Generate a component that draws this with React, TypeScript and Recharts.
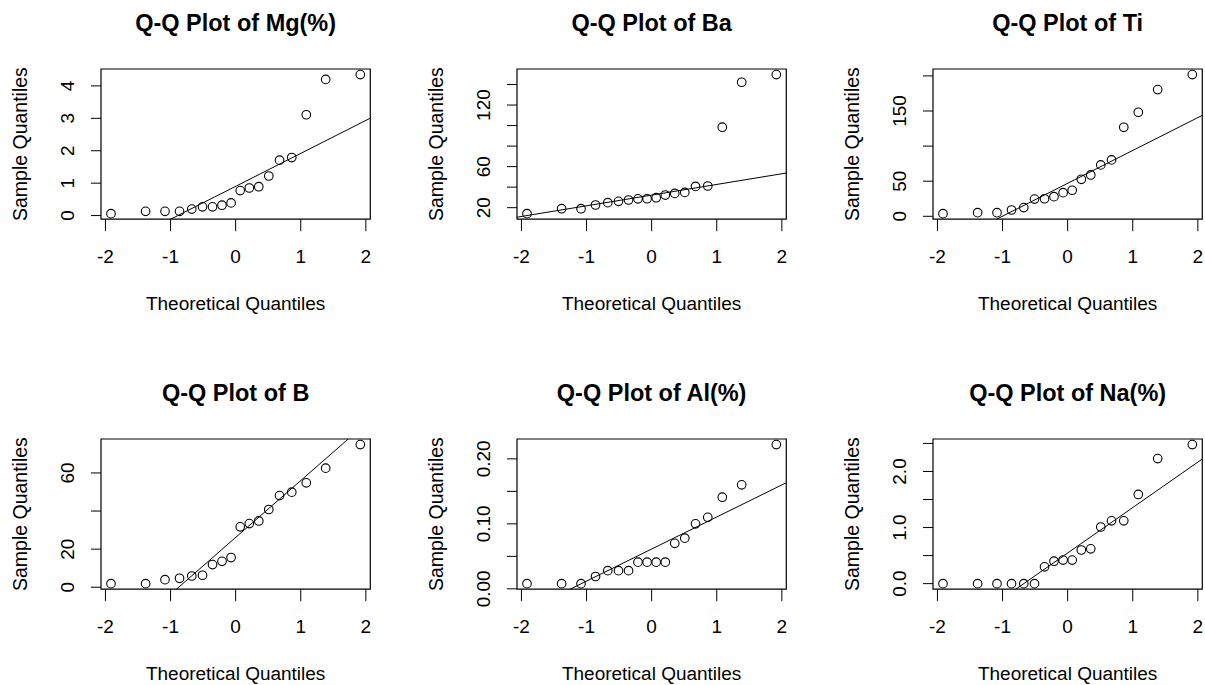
import React from "react";
import {
  ScatterChart,
  Scatter,
  XAxis,
  YAxis,
  ReferenceArea,
  ReferenceLine,
} from "recharts";

// theoretical normal quantiles for the 18 samples
const theoretical = [
  -1.915, -1.383, -1.085, -0.862, -0.674, -0.509, -0.355, -0.21, -0.07, 0.07,
  0.21, 0.355, 0.509, 0.674, 0.862, 1.085, 1.383, 1.915,
];

const mgValues = [
  0.06, 0.13, 0.13, 0.13, 0.2, 0.27, 0.27, 0.32, 0.39, 0.77, 0.85, 0.89, 1.22,
  1.71, 1.79, 3.11, 4.2, 4.35,
];
const baValues = [
  14.2, 19.0, 19.0, 22.6, 24.9, 26.2, 27.5, 28.6, 28.7, 29.7, 32.3, 33.9, 34.9,
  40.7, 41.1, 98.4, 142.2, 149.7,
];
const tiValues = [
  3.8, 5.2, 5.2, 9.0, 12.4, 24.5, 25.0, 28.0, 33.7, 37.1, 52.7, 58.9, 73.2,
  80.3, 126.8, 148.2, 180.5, 201.9,
];
const bValues = [
  1.9, 1.9, 4.0, 4.7, 5.9, 6.3, 11.9, 13.6, 15.6, 31.7, 33.4, 34.8, 40.8, 48.1,
  49.9, 54.8, 62.5, 74.9,
];
const alValues = [
  0.008, 0.008, 0.008, 0.019, 0.028, 0.028, 0.028, 0.041, 0.041, 0.041, 0.041,
  0.07, 0.078, 0.1, 0.11, 0.141, 0.16, 0.222,
];
const naValues = [
  0, 0, 0, 0, 0, 0, 0.3, 0.4, 0.42, 0.42, 0.6, 0.62, 1.01, 1.12, 1.12, 1.59,
  2.23, 2.48,
];

const titles = [
  "Q-Q Plot of Mg(%)",
  "Q-Q Plot of Ba",
  "Q-Q Plot of Ti",
  "Q-Q Plot of B",
  "Q-Q Plot of Al(%)",
  "Q-Q Plot of Na(%)",
];

const xTicks = [-2, -1, 0, 1, 2];
const xLabels = ["-2", "-1", "0", "1", "2"];

const mgTicks = [0, 1, 2, 3, 4];
const mgLabels = ["0", "1", "2", "3", "4"];
const baTicks = [20, 40, 60, 80, 100, 120, 140];
const baLabels = ["20", "", "60", "", "", "120", ""];
const tiTicks = [0, 50, 100, 150, 200];
const tiLabels = ["0", "50", "", "150", ""];
const bTicks = [0, 20, 40, 60];
const bLabels = ["0", "20", "", "60"];
const alTicks = [0, 0.05, 0.1, 0.15, 0.2];
const alLabels = ["0.00", "", "0.10", "", "0.20"];
const naTicks = [0, 0.5, 1, 1.5, 2, 2.5];
const naLabels = ["0.0", "", "1.0", "", "2.0", ""];

const FONT = "'Liberation Sans', Arial, sans-serif";
const BOX_W = 269.3;
const BOX_H = 150.2;
const PAD_L = 100;
const PAD_T = 69;
const PAD_R = 4;
const PAD_B = 100;
const colLefts = [100.7, 517.3, 933.3];
const rowTops = [69.3, 439];

// R style: range extended by 4% on each side
const rRange = (v: number[]): [number, number] => {
  const lo = Math.min(...v);
  const hi = Math.max(...v);
  const d = (hi - lo) * 0.04;
  return [lo - d, hi + d];
};

// quantile type 7, as qqline does
const q7 = (v: number[], p: number) => {
  const s = [...v].sort((a, b) => a - b);
  const h = (s.length - 1) * p;
  const i = Math.floor(h);
  return s[i] + (h - i) * ((s[i + 1] ?? s[i]) - s[i]);
};

type PanelProps = {
  title: string;
  values: number[];
  yTicks: number[];
  yLabels: string[];
  left: number;
  top: number;
};

const QQPanel = ({ title, values, yTicks, yLabels, left, top }: PanelProps) => {
  const data = theoretical.map((x, i) => ({ x, y: values[i] }));
  const xDomain = rRange(theoretical);
  const yDomain = rRange(values);
  const q1 = q7(values, 0.25);
  const q3 = q7(values, 0.75);
  const slope = (q3 - q1) / (0.674 * 2);
  const icpt = q1 + 0.674 * slope;
  const width = PAD_L + BOX_W + PAD_R;
  const height = PAD_T + BOX_H + PAD_B;
  const cx = PAD_L + BOX_W / 2;

  const XTick = (p: any) => {
    const i = xTicks.indexOf(p.payload.value);
    return (
      <text
        x={p.x}
        y={PAD_T + BOX_H + 44}
        textAnchor="middle"
        fontSize={19}
        fontFamily={FONT}
        fill="#000"
      >
        {xLabels[i]}
      </text>
    );
  };

  const YTick = (p: any) => {
    const i = yTicks.indexOf(p.payload.value);
    const lbl = yLabels[i];
    if (!lbl) return <g />;
    const bx = PAD_L - 27;
    return (
      <text
        x={bx}
        y={p.y}
        transform={`rotate(-90 ${bx} ${p.y})`}
        textAnchor="middle"
        fontSize={19}
        fontFamily={FONT}
        fill="#000"
      >
        {lbl}
      </text>
    );
  };

  const XTitle = () => (
    <text
      x={cx}
      y={PAD_T + BOX_H + 90.5}
      textAnchor="middle"
      fontSize={19}
      fontFamily={FONT}
      fill="#000"
    >
      Theoretical Quantiles
    </text>
  );

  const YTitle = () => {
    const bx = PAD_L - 74.5;
    const by = PAD_T + BOX_H / 2;
    return (
      <text
        x={bx}
        y={by}
        transform={`rotate(-90 ${bx} ${by})`}
        textAnchor="middle"
        fontSize={19.5}
        fontFamily={FONT}
        fill="#000"
      >
        Sample Quantiles
      </text>
    );
  };

  const MainTitle = () => (
    <text
      x={cx}
      y={PAD_T - 38}
      textAnchor="middle"
      fontSize={23.5}
      fontWeight="bold"
      fontFamily={FONT}
      fill="#000"
    >
      {title}
    </text>
  );

  return (
    <div style={{ position: "absolute", left: left - PAD_L, top: top - PAD_T }}>
      <ScatterChart
        width={width}
        height={height}
        margin={{ top: PAD_T, right: PAD_R, bottom: 0, left: 0 }}
      >
        <XAxis
          type="number"
          dataKey="x"
          domain={xDomain}
          ticks={xTicks}
          interval={0}
          height={PAD_B}
          tickSize={12}
          stroke="#000"
          axisLine={false}
          tick={XTick}
          label={XTitle}
        />
        <YAxis
          type="number"
          dataKey="y"
          domain={yDomain}
          ticks={yTicks}
          interval={0}
          width={PAD_L}
          tickSize={10}
          stroke="#000"
          axisLine={false}
          tick={YTick}
          label={YTitle}
        />
        <ReferenceArea
          x1={xDomain[0]}
          x2={xDomain[1]}
          y1={yDomain[0]}
          y2={yDomain[1]}
          fill="none"
          stroke="#000"
          strokeWidth={1.2}
          ifOverflow="visible"
          label={MainTitle}
        />
        <ReferenceLine
          segment={[
            { x: xDomain[0], y: icpt + slope * xDomain[0] },
            { x: xDomain[1], y: icpt + slope * xDomain[1] },
          ]}
          stroke="#000"
          strokeWidth={1}
          ifOverflow="hidden"
        />
        <Scatter
          data={data}
          isAnimationActive={false}
          shape={(p: any) => (
            <circle
              cx={p.cx}
              cy={p.cy}
              r={4.3}
              fill="none"
              stroke="#000"
              strokeWidth={1.1}
            />
          )}
        />
      </ScatterChart>
    </div>
  );
};

const App = () => {
  const panels = [
    { values: mgValues, ticks: mgTicks, labels: mgLabels },
    { values: baValues, ticks: baTicks, labels: baLabels },
    { values: tiValues, ticks: tiTicks, labels: tiLabels },
    { values: bValues, ticks: bTicks, labels: bLabels },
    { values: alValues, ticks: alTicks, labels: alLabels },
    { values: naValues, ticks: naTicks, labels: naLabels },
  ];
  return (
    <div
      style={{
        position: "absolute",
        left: 0,
        top: 0,
        width: 1205,
        height: 685,
        overflow: "hidden",
        background: "#fff",
      }}
    >
      {panels.map((p, i) => (
        <QQPanel
          key={titles[i]}
          title={titles[i]}
          values={p.values}
          yTicks={p.ticks}
          yLabels={p.labels}
          left={colLefts[i % 3]}
          top={rowTops[Math.floor(i / 3)]}
        />
      ))}
    </div>
  );
};

export default App;
